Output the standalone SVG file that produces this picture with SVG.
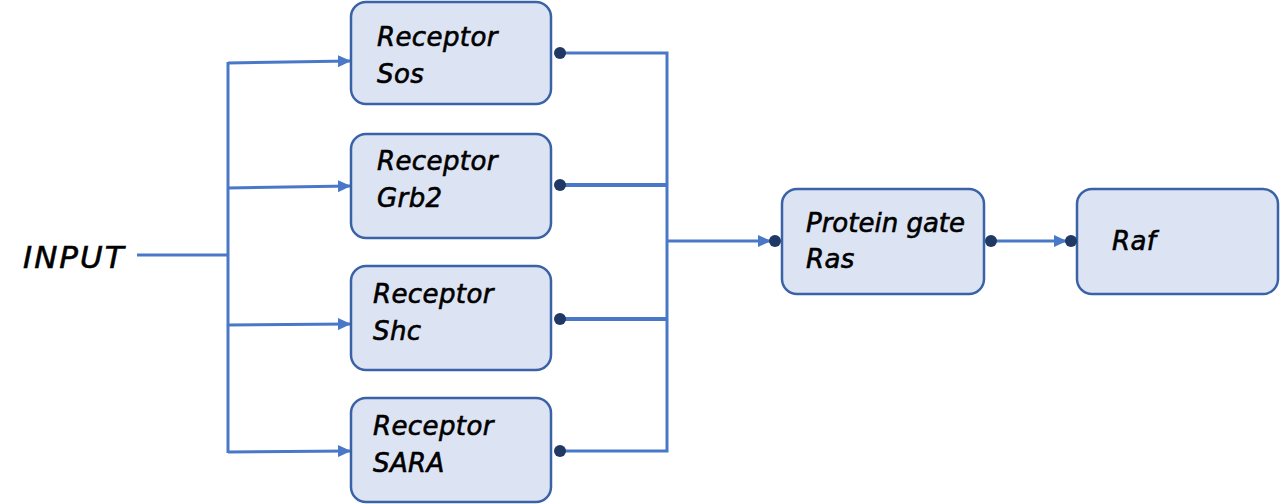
<svg xmlns="http://www.w3.org/2000/svg" width="1280" height="504" viewBox="0 0 1280 504">
<style>
.box{fill:#dce3f2;stroke:#3a62a7;stroke-width:2.5}
.lbl{font-family:"DejaVu Sans",sans-serif;font-style:italic;font-size:26px;fill:#000;stroke:#000;stroke-width:0.6;letter-spacing:0.4px}
.ln{fill:none;stroke:#4a78c8;stroke-width:3}
.dot{fill:#1f3864}
</style>
<defs>
<marker id="arr" viewBox="0 0 13 12" refX="12" refY="6" markerWidth="13" markerHeight="12" markerUnits="userSpaceOnUse" orient="auto">
<path d="M0,0 L13,6 L0,12 Z" fill="#4a78c8"/>
</marker>
</defs>
<rect width="1280" height="504" fill="#fff"/>
<g id="connectors">
<line class="ln" x1="137" y1="255" x2="228" y2="255"/>
<line class="ln" x1="228" y1="62" x2="228" y2="453"/>
<line class="ln" x1="228" y1="63" x2="350" y2="61" marker-end="url(#arr)"/>
<line class="ln" x1="228" y1="188" x2="350" y2="186" marker-end="url(#arr)"/>
<line class="ln" x1="228" y1="325" x2="350" y2="324" marker-end="url(#arr)"/>
<line class="ln" x1="228" y1="452" x2="350" y2="451" marker-end="url(#arr)"/>
<polyline class="ln" points="560,53 667,53 667,451 560,451"/>
<line class="ln" x1="560" y1="185" x2="667" y2="185" style="stroke-width:4"/>
<line class="ln" x1="560" y1="319" x2="667" y2="319" style="stroke-width:4"/>
<line class="ln" x1="667" y1="241" x2="770" y2="241" marker-end="url(#arr)"/>
<line class="ln" x1="991" y1="241" x2="1066" y2="241" marker-end="url(#arr)"/>
</g>
<g id="input"><text class="lbl" x="23" y="268" style="font-size:31px;letter-spacing:2px">INPUT</text></g>
<g id="sos">
<rect class="box" x="351" y="2" width="200" height="102" rx="15"/>
<text class="lbl" x="377" y="46">Receptor</text>
<text class="lbl" x="377" y="83">Sos</text>
<circle class="dot" cx="560" cy="53" r="6"/>
</g>
<g id="grb2">
<rect class="box" x="351" y="134" width="200" height="104" rx="15"/>
<text class="lbl" x="377" y="170">Receptor</text>
<text class="lbl" x="377" y="207">Grb2</text>
<circle class="dot" cx="560" cy="185" r="6"/>
</g>
<g id="shc">
<rect class="box" x="351" y="266" width="200" height="104" rx="15"/>
<text class="lbl" x="373" y="303">Receptor</text>
<text class="lbl" x="373" y="340">Shc</text>
<circle class="dot" cx="560" cy="319" r="6"/>
</g>
<g id="sara">
<rect class="box" x="351" y="398" width="200" height="104" rx="15"/>
<text class="lbl" x="373" y="435">Receptor</text>
<text class="lbl" x="373" y="472">SARA</text>
<circle class="dot" cx="560" cy="451" r="6"/>
</g>
<g id="ras">
<rect class="box" x="782" y="189" width="202" height="105" rx="15"/>
<text class="lbl" x="806" y="232" style="letter-spacing:0px">Protein gate</text>
<text class="lbl" x="806" y="268">Ras</text>
<circle class="dot" cx="775" cy="241" r="6"/>
<circle class="dot" cx="991" cy="241" r="6"/>
</g>
<g id="raf">
<rect class="box" x="1077" y="189" width="201" height="105" rx="15"/>
<text class="lbl" x="1112" y="250">Raf</text>
<circle class="dot" cx="1071" cy="241" r="6"/>
</g>
</svg>
